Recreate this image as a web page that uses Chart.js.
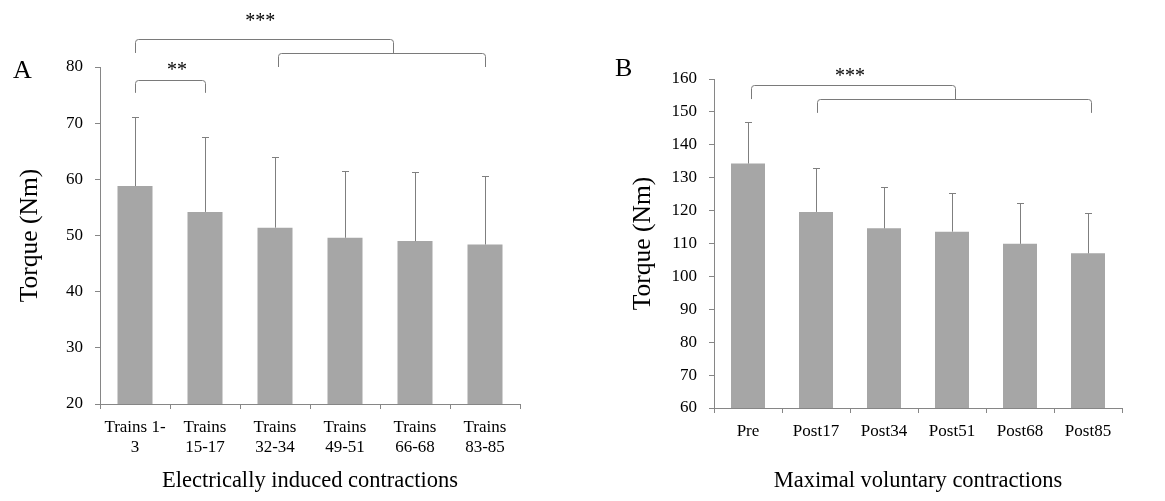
<!DOCTYPE html>
<html>
<head>
<meta charset="utf-8">
<script src="https://cdn.jsdelivr.net/npm/chart.js@4.4.1/dist/chart.umd.min.js"></script>
<style>
  html, body { margin: 0; padding: 0; background: #fff; }
  #wrap { position: relative; width: 1165px; height: 501px; }
  canvas { position: absolute; top: 0; }
</style>
</head>
<body>
<div id="wrap">
  <canvas id="chartA" width="580" height="501" style="left:0"></canvas>
  <canvas id="chartB" width="585" height="501" style="left:580px"></canvas>
</div>
<script>
// Panel A — electrically induced contractions
const labelsA = [["Trains 1-", "3"], ["Trains", "15-17"], ["Trains", "32-34"], ["Trains", "49-51"], ["Trains", "66-68"], ["Trains", "83-85"]];
const meansA = [58.8, 54.2, 51.4, 49.6, 49.0, 48.4];
const sdA = [12.3, 13.3, 12.5, 11.9, 12.3, 12.2];

// Panel B — maximal voluntary contractions
const labelsB = ["Pre", "Post17", "Post34", "Post51", "Post68", "Post85"];
const meansB = [134.3, 119.6, 114.6, 113.6, 109.9, 107.0];
const sdB = [12.6, 13.3, 12.6, 11.8, 12.3, 12.3];

// significance brackets: [from index, to index, top value, left leg end, right leg end]
const bracketsA = [[0, 1, 77.7, 75.4, 75.4], [0, 3.69, 85.0, 82.5, 82.5], [2.04, 5, 82.5, 80.0, 80.0]];
const starsA = [["**", 0.6, 79.3], ["***", 1.79, 88.0]];
const bracketsB = [[0.05, 3.04, 158.2, 153.9, 153.9], [1.01, 5.05, 153.9, 149.7, 149.7]];
const starsB = [["***", 1.5, 160.6]];

const FONT = "'Liberation Serif', 'Times New Roman', serif";
const AXIS = "#868686";
const BAR = "#a6a6a6";
const ERR = "#7f7f7f";

function overlay(sd, brackets, stars, letter, letterX, letterY) {
  return {
    id: "overlay",
    afterDraw(chart) {
      const { ctx, scales: { x, y } } = chart;
      const meta = chart.getDatasetMeta(0);
      const data = chart.data.datasets[0].data;
      ctx.save();
      ctx.strokeStyle = ERR;
      ctx.lineWidth = 1;
      // error bars (upper only)
      meta.data.forEach((bar, i) => {
        const px = Math.round(bar.x) + 0.5;
        const y0 = y.getPixelForValue(data[i]);
        const y1 = Math.round(y.getPixelForValue(data[i] + sd[i])) + 0.5;
        ctx.beginPath();
        ctx.moveTo(px, y0);
        ctx.lineTo(px, y1);
        ctx.moveTo(px - 3.5, y1);
        ctx.lineTo(px + 3.5, y1);
        ctx.stroke();
      });
      // brackets
      ctx.strokeStyle = "#7a7a7a";
      brackets.forEach(([a, b, top, l, r]) => {
        const x1 = Math.round(x.getPixelForValue(a)) + 0.5;
        const x2 = Math.round(x.getPixelForValue(b)) + 0.5;
        const yt = Math.round(y.getPixelForValue(top)) + 0.5;
        const yl = y.getPixelForValue(l);
        const yr = y.getPixelForValue(r);
        const rad = 3;
        ctx.beginPath();
        ctx.moveTo(x1, yl);
        ctx.lineTo(x1, yt + rad);
        ctx.quadraticCurveTo(x1, yt, x1 + rad, yt);
        ctx.lineTo(x2 - rad, yt);
        ctx.quadraticCurveTo(x2, yt, x2, yt + rad);
        ctx.lineTo(x2, yr);
        ctx.stroke();
      });
      ctx.fillStyle = "#000";
      ctx.textAlign = "center";
      ctx.textBaseline = "middle";
      ctx.font = "20px " + FONT;
      stars.forEach(([txt, xi, v]) => {
        ctx.fillText(txt, x.getPixelForValue(xi), y.getPixelForValue(v));
      });
      ctx.textAlign = "left";
      ctx.font = "26px " + FONT;
      ctx.fillText(letter, letterX, letterY);
      ctx.restore();
    },
  };
}

function makeChart(id, cfg) {
  const tickFont = { family: FONT, size: 17 };
  const titleFont = { family: FONT, size: 22.5 };
  return new Chart(document.getElementById(id), {
    type: "bar",
    data: {
      labels: cfg.labels,
      datasets: [{ data: cfg.means, backgroundColor: BAR, borderWidth: 0, categoryPercentage: 1, barPercentage: 0.5 }],
    },
    options: {
      responsive: false, animation: false, events: [],
      layout: { padding: { top: cfg.top, right: cfg.right, left: 0, bottom: 0 } },
      plugins: { legend: { display: false }, tooltip: { enabled: false } },
      scales: {
        x: {
          grid: { display: true, drawOnChartArea: false, tickLength: 5, color: AXIS, offset: true },
          border: { color: AXIS },
          ticks: { font: tickFont, color: "#000", padding: 8, maxRotation: 0, autoSkip: false },
          title: { display: true, text: cfg.xTitle, font: titleFont, color: "#000", padding: { top: 0, bottom: 6 } },
          afterFit(s) { s.height = cfg.xHeight; },
        },
        y: {
          min: cfg.min, max: cfg.max,
          grid: { drawOnChartArea: false, tickLength: 5, color: AXIS },
          border: { color: AXIS },
          ticks: { stepSize: 10, font: tickFont, color: "#000", padding: 12 },
          title: { display: true, text: "Torque (Nm)", font: { family: FONT, size: 25.5 }, color: "#000", padding: { top: cfg.yTitlePad, bottom: 0 } },
          afterFit(s) { s.width = cfg.yWidth; },
        },
      },
    },
    plugins: [overlay(cfg.sd, cfg.brackets, cfg.stars, cfg.letter, cfg.letterX, cfg.letterY)],
  });
}

makeChart("chartA", {
  labels: labelsA, means: meansA, sd: sdA, brackets: bracketsA, stars: starsA,
  xTitle: "Electrically induced contractions", min: 20, max: 80,
  top: 67, right: 60, xHeight: 97, yWidth: 100, yTitlePad: 15,
  letter: "A", letterX: 13, letterY: 71,
});

makeChart("chartB", {
  labels: labelsB, means: meansB, sd: sdB, brackets: bracketsB, stars: starsB,
  xTitle: "Maximal voluntary contractions", min: 60, max: 160,
  top: 79, right: 43, xHeight: 93, yWidth: 134, yTitlePad: 48,
  letter: "B", letterX: 35, letterY: 69,
});
</script>
</body>
</html>
